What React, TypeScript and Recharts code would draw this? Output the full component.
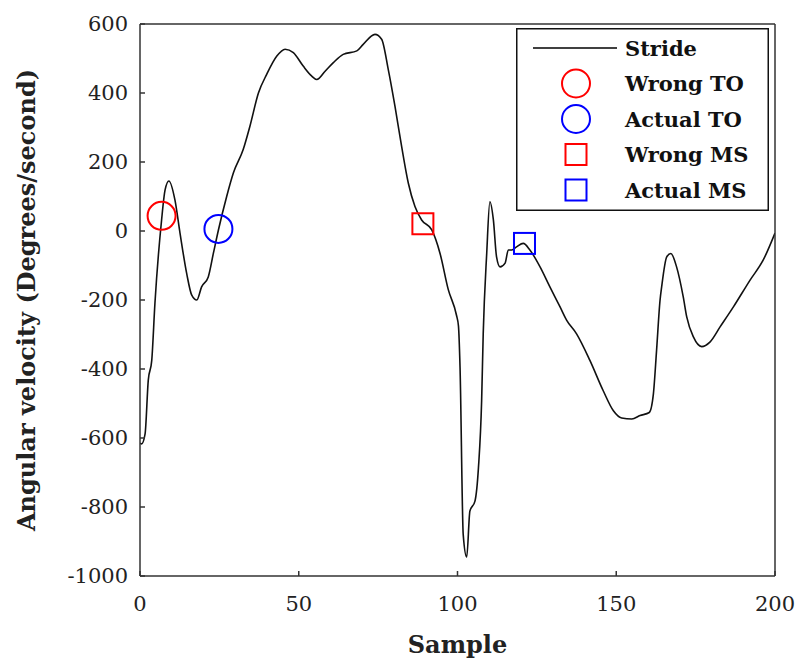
import { ComposedChart, Line, Scatter, XAxis, YAxis, Legend } from "recharts"

// stride trace
const sampleX = [
  0, 0.5, 1.6, 2.6, 3.7, 4.7, 6.8, 7.9, 9.1, 11.0, 12.6, 14.7, 16.3, 17.9, 19.4, 21.5, 23.1, 24.7,
  27.3, 29.4, 32.5, 34.6, 37.3, 39.9, 43.1, 45.7, 48.3, 51.4, 54.1, 55.7, 58.3, 60.9, 64.0, 68.3,
  70.3, 74.0, 76.1, 78.2, 80.3, 82.4, 84.5, 86.6, 88.7, 91.9, 94.5, 97.1, 99.7, 100.3, 100.8, 101.8,
  102.9, 103.9, 105.5, 106.6, 107.6, 108.1, 109.2, 110.2, 111.3, 112.3, 113.4, 115.0, 116.0, 117.1,
  118.6, 120.7, 122.8, 126.0, 129.1, 132.3, 134.4, 137.5, 141.7, 145.9, 149.1, 151.7, 154.9, 157.5,
  160.4, 161.7, 162.7, 163.8, 164.3, 165.9, 167.2, 169.0, 171.1, 172.2, 174.3, 176.9, 179.5, 182.7,
  186.9, 192.1, 196.3, 200,
]
const strideY = [
  -615, -617, -588, -433, -375, -210, 32, 119, 145, 90, -6, -123, -186, -200, -162, -133, -65, 3,
  100, 168, 236, 303, 400, 454, 507, 527, 517, 478, 449, 439, 463, 488, 512, 522,
  541, 570, 556, 468, 362, 245, 139, 71, 32, 3, -65, -170, -245, -275, -395, -880,
  -945, -812, -783, -686, -492, -298, -65, 85, 32, -75, -104, -93, -55, -55,
  -46, -36, -55, -104, -162, -220, -259, -298, -375, -463, -521, -542, -545, -535,
  -526, -472, -346, -200, -162, -75, -65, -104, -191, -249, -307, -335, -322, -278,
  -220, -143, -84, -6,
]

const wrongTO = [{ x: 6.8, y: 44 }]
const actualTO = [{ x: 24.7, y: 6 }]
const wrongMS = [{ x: 89.1, y: 21 }]
const actualMS = [{ x: 121.1, y: -36 }]

const xTicks = [0, 50, 100, 150, 200]
const yTicks = [-1000, -800, -600, -400, -200, 0, 200, 400, 600]

const legendItems = [
  { name: "Stride", kind: "line", color: "#000" },
  { name: "Wrong TO", kind: "circle", color: "#ff0000" },
  { name: "Actual TO", kind: "circle", color: "#0000ff" },
  { name: "Wrong MS", kind: "square", color: "#ff0000" },
  { name: "Actual MS", kind: "square", color: "#0000ff" },
]

const strideData = sampleX.map((x, i) => ({ x, y: strideY[i] }))

const FONT = "DejaVu Serif"
const axisColor = "#333"
const tickStyle = { fontFamily: FONT, fontSize: 21, fill: "#222" }

const circleShape = (color: string) => (props: any) => (
  <circle cx={props.cx} cy={props.cy} r={14} fill="none" stroke={color} strokeWidth={2} />
)
const squareShape = (color: string) => (props: any) => (
  <rect x={props.cx - 10.5} y={props.cy - 10.5} width={21} height={21} fill="none" stroke={color} strokeWidth={2} />
)

function LegendBox() {
  return (
    <svg width={253} height={183} style={{ display: "block" }}>
      <rect x={0.75} y={0.75} width={251.5} height={181.5} fill="#fff" stroke="#111" strokeWidth={1.5} />
      {legendItems.map((item, i) => {
        const cy = 20 + i * 35.5
        return (
          <g key={item.name}>
            {item.kind === "line" && <line x1={17} x2={101} y1={cy} y2={cy} stroke={item.color} strokeWidth={1.5} />}
            {item.kind === "circle" && <circle cx={60} cy={cy} r={14} fill="none" stroke={item.color} strokeWidth={2} />}
            {item.kind === "square" && (
              <rect x={49.5} y={cy - 10.5} width={21} height={21} fill="none" stroke={item.color} strokeWidth={2} />
            )}
            <text x={109} y={cy} dominantBaseline="central" fontFamily={FONT} fontWeight="bold" fontSize={21} fill="#111">
              {item.name}
            </text>
          </g>
        )
      })}
    </svg>
  )
}

const YTitle = (props: any) => {
  const { viewBox } = props
  const cy = viewBox.y + viewBox.height / 2
  return (
    <text
      x={26}
      y={cy}
      transform={`rotate(-90, 26, ${cy})`}
      textAnchor="middle"
      dominantBaseline="central"
      fontFamily={FONT}
      fontWeight="bold"
      fontSize={24}
      fill="#222"
    >
      Angular velocity (Degrees/second)
    </text>
  )
}

const XTitle = (props: any) => {
  const { viewBox } = props
  const cx = viewBox.x + viewBox.width / 2
  return (
    <text x={cx} y={653} textAnchor="middle" fontFamily={FONT} fontWeight="bold" fontSize={24} fill="#222">
      Sample
    </text>
  )
}

export default function App() {
  return (
    <div style={{ position: "absolute", left: 0, top: 0, width: 801, height: 662, background: "#fff" }}>
      <ComposedChart width={801} height={662} margin={{ top: 24, right: 26, bottom: 26, left: 60 }}>
        <XAxis
          dataKey="x"
          type="number"
          domain={[0, 200]}
          ticks={xTicks}
          allowDataOverflow
          height={60}
          tickSize={-5}
          tickMargin={25}
          tick={tickStyle}
          stroke={axisColor}
          strokeWidth={1.5}
          label={<XTitle />}
        />
        <XAxis
          xAxisId="top"
          orientation="top"
          mirror
          type="number"
          domain={[0, 200]}
          ticks={xTicks}
          allowDataOverflow
          tick={false}
          tickSize={5}
          stroke={axisColor}
          strokeWidth={1.5}
        />
        <YAxis
          type="number"
          domain={[-1000, 600]}
          ticks={yTicks}
          allowDataOverflow
          width={80}
          tickSize={-5}
          tickMargin={17}
          tick={tickStyle}
          stroke={axisColor}
          strokeWidth={1.5}
          label={<YTitle />}
        />
        <YAxis
          yAxisId="right"
          orientation="right"
          mirror
          type="number"
          domain={[-1000, 600]}
          ticks={yTicks}
          allowDataOverflow
          tick={false}
          tickSize={5}
          stroke={axisColor}
          strokeWidth={1.5}
        />
        <Line
          data={strideData}
          dataKey="y"
          type="monotone"
          stroke="#111"
          strokeWidth={1.6}
          dot={false}
          isAnimationActive={false}
        />
        <Scatter data={wrongTO} dataKey="y" shape={circleShape("#ff0000")} isAnimationActive={false} />
        <Scatter data={actualTO} dataKey="y" shape={circleShape("#0000ff")} isAnimationActive={false} />
        <Scatter data={wrongMS} dataKey="y" shape={squareShape("#ff0000")} isAnimationActive={false} />
        <Scatter data={actualMS} dataKey="y" shape={squareShape("#0000ff")} isAnimationActive={false} />
        <Legend
          layout="horizontal"
          align="center"
          verticalAlign="middle"
          width={253}
          height={183}
          wrapperStyle={{ left: 516, top: 28, width: 253, height: 183 }}
          content={() => <LegendBox />}
        />
      </ComposedChart>
    </div>
  )
}
